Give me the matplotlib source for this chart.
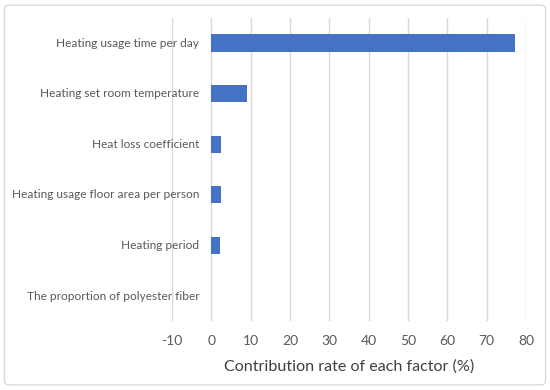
import matplotlib
matplotlib.use("Agg")
import matplotlib.pyplot as plt
from matplotlib.patches import FancyBboxPatch
from matplotlib.transforms import blended_transform_factory, offset_copy

categories = ["Heating usage time per day", "Heating set room temperature",
              "Heat loss coefficient", "Heating usage floor area per person",
              "Heating period", "The proportion of polyester fiber"]
values = [77.2, 9.0, 2.5, 2.4, 2.3, 0.0]
xticks = [-10, 0, 10, 20, 30, 40, 50, 60, 70, 80]
xlabel = "Contribution rate of each factor (%)"

plt.rcParams['font.family'] = ['Lato', 'DejaVu Sans']
fig = plt.figure(figsize=(5.5, 3.9), dpi=100)
ax = fig.add_axes([0.3127, 0.176, 0.6437, 0.7786])

y = list(range(len(categories)))
ax.barh(y, values, height=0.34, color="#4472C4", zorder=3)
ax.set_ylim(len(categories) - 0.5, -0.5)
ax.set_xlim(-10, 80)
ax.set_xticks(xticks)
ax.set_xticklabels([str(t) for t in xticks], fontsize=10, color="#595959")
ax.set_yticks(y)
ax.set_yticklabels([])
ax.tick_params(length=0, pad=10)
ax.grid(axis='x', color="#D9D9D9", linewidth=1, zorder=0)
for s in ax.spines.values():
    s.set_visible(False)
ax.set_xlabel(xlabel, fontsize=11.6, color="#404040", labelpad=9)

trans = offset_copy(blended_transform_factory(ax.transData, ax.transData), fig=fig, x=-12, y=0, units='dots')
for yi, cat in zip(y, categories):
    ax.text(0, yi, cat, transform=trans, ha='right', va='center', fontsize=8.6, color="#595959")

border = FancyBboxPatch((0.008, 0.013), 0.984, 0.974, boxstyle="round,pad=0,rounding_size=0.01",
                        transform=fig.transFigure, fill=False, edgecolor="#D9D9D9", linewidth=1)
fig.patches.append(border)

fig.savefig("out.png", dpi=100)
